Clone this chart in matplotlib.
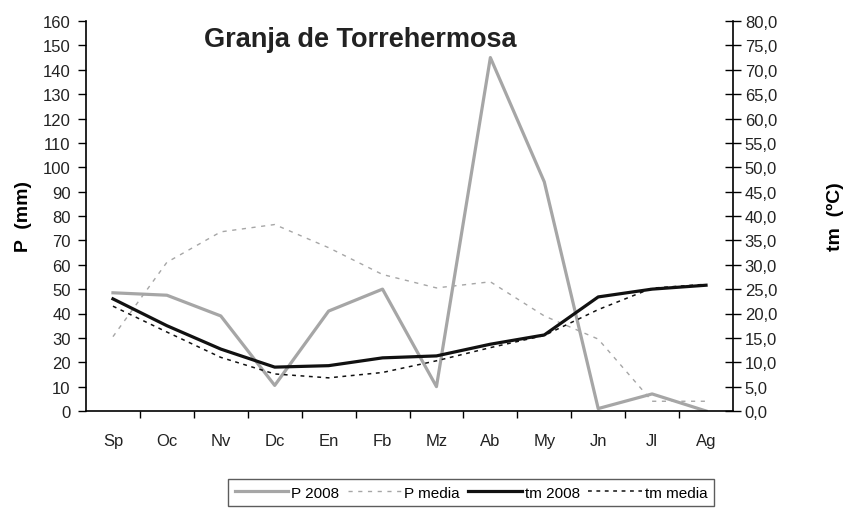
import matplotlib.pyplot as plt
from matplotlib.ticker import FuncFormatter

plt.rcParams['font.family'] = ['Liberation Sans', 'DejaVu Sans']

months = ["Sp", "Oc", "Nv", "Dc", "En", "Fb", "Mz", "Ab", "My", "Jn", "Jl", "Ag"]
p_2008 = [48.5, 47.5, 39, 10.5, 41, 50, 10, 145, 94, 1, 7, 0]
p_media = [30.5, 61, 73.5, 76.5, 67, 56, 50.5, 53, 39, 29.5, 4, 4]
tm_2008 = [23.0, 17.5, 12.7, 9.0, 9.3, 10.9, 11.3, 13.7, 15.6, 23.4, 25.0, 25.8]
tm_media = [21.5, 16.2, 11.0, 7.6, 6.8, 7.9, 10.3, 13.0, 15.5, 20.8, 25.2, 26.0]

x = list(range(len(months)))

fig = plt.figure(figsize=(8.47, 5.10), dpi=100)
ax = fig.add_axes([86 / 847, 1 - 412 / 510, 647 / 847, 390 / 510])
ax2 = ax.twinx()

l1, = ax.plot(x, p_2008, color='#a6a6a6', lw=2.3, label='P 2008')
l2, = ax.plot(x, p_media, color='#a6a6a6', lw=1.0, ls=(0, (3, 4)), label='P media')
l3, = ax2.plot(x, tm_2008, color='#111111', lw=2.3, label='tm 2008')
l4, = ax2.plot(x, tm_media, color='#111111', lw=1.1, ls=(0, (2.5, 3)), label='tm media')

ax.set_xlim(-0.5, 11.5)
ax.set_ylim(0, 160)
ax2.set_ylim(0, 80)
ax.set_yticks(range(0, 161, 10))
ax2.set_yticks(range(0, 81, 5))
ax2.yaxis.set_major_formatter(FuncFormatter(lambda v, p: f"{v:.1f}".replace('.', ',')))

# Excel style: ticks between categories, labels at centres
ax.set_xticks([i + 0.5 for i in x[:-1]])
ax.set_xticks(x, minor=True)
ax.set_xticklabels([])
ax.set_xticklabels(months, minor=True)
ax.tick_params(axis='x', which='major', direction='out', length=5, width=1)
ax.tick_params(axis='x', which='minor', length=0, pad=16, labelsize=12, labelcolor='#222222')
ax.tick_params(axis='y', direction='out', length=6, width=1, labelsize=12, pad=5,
               labelcolor='#222222')
ax2.tick_params(axis='y', direction='inout', length=11, width=1, labelsize=12, pad=3,
                labelcolor='#222222')

ax.spines['top'].set_visible(False)
ax2.spines['top'].set_visible(False)
ax.spines['right'].set_visible(False)
for s in ['left', 'bottom']:
    ax.spines[s].set_linewidth(1.2)
ax2.spines['right'].set_linewidth(1.2)
ax2.spines['left'].set_visible(False)
ax2.spines['bottom'].set_visible(False)

ax.set_ylabel("P  (mm)", fontsize=14, fontweight='bold', labelpad=8)
ax2.set_ylabel("tm  (ºC)", fontsize=14, fontweight='bold', labelpad=36)

ax.text(0.4235, 0.954, "Granja de Torrehermosa", transform=ax.transAxes,
        ha='center', va='center', fontsize=19.5, fontweight='bold', color='#222222')

leg = fig.legend(handles=[l1, l2, l3, l4], loc='upper center', ncol=4,
                 bbox_to_anchor=(471 / 847, 1 - 472 / 510), frameon=True,
                 fancybox=False, edgecolor='#333333', fontsize=11,
                 handlelength=3.5, handletextpad=0.2, columnspacing=0.55,
                 borderpad=0.45)
leg.get_frame().set_linewidth(1.0)

fig.savefig("out.png", dpi=100)
